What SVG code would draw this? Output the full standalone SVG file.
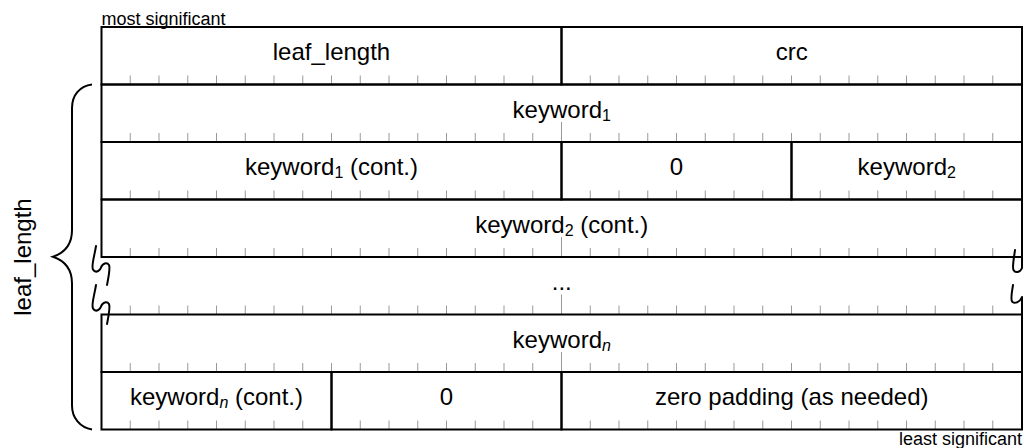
<svg xmlns="http://www.w3.org/2000/svg" width="1024" height="448" viewBox="0 0 1024 448">
  <defs>
    <style>
      .t{font-family:"Liberation Sans",Arial,sans-serif;font-size:24px;fill:#000;text-anchor:middle}
      .s{font-family:"Liberation Sans",Arial,sans-serif;font-size:18px;fill:#000}
      .sub{font-size:16px}
      .ln{stroke:#000;stroke-width:2;fill:none}
      .tk{stroke:#999;stroke-width:1;fill:none}
      .sq{stroke:#000;stroke-width:2;fill:none;stroke-linecap:round;stroke-linejoin:round}
    </style>
    <!-- bit ticks along the bottom of a 32-bit row; y=0 is the row's bottom edge -->
    <path id="ticks" class="tk" d="M130.25,-9v9M159,-9v9M187.75,-9v9M216.5,-9v9M245.25,-9v9M274,-9v9M302.75,-9v9M331.5,-9v9M360.25,-9v9M389,-9v9M417.75,-9v9M446.5,-9v9M475.25,-9v9M504,-9v9M532.75,-9v9M561.5,-20v20M590.25,-9v9M619,-9v9M647.75,-9v9M676.5,-9v9M705.25,-9v9M734,-9v9M762.75,-9v9M791.5,-9v9M820.25,-9v9M849,-9v9M877.75,-9v9M906.5,-9v9M935.25,-9v9M964,-9v9M992.75,-9v9"/>
    <!-- break mark used on the left edge of the gap row -->
    <path id="breakL" class="sq" d="M96,246 C94.5,256 91,266 93,269.5 C95,273 99.5,272 101,267.5 C102.5,263 107,262 109,265 C110.5,268 108.5,277 107,285"/>
  </defs>

  <rect width="1024" height="448" fill="#fff"/>

  <!-- tick marks -->
  <g id="tick-marks">
    <use href="#ticks" y="84.5"/>
    <use href="#ticks" y="142"/>
    <use href="#ticks" y="199.5"/>
    <use href="#ticks" y="257"/>
    <use href="#ticks" y="314.5"/>
    <use href="#ticks" y="372"/>
    <use href="#ticks" y="429.5"/>
  </g>

  <text class="s" x="101.5" y="25">most significant</text>
  <text class="s" x="1022" y="444.5" text-anchor="end">least significant</text>

  <!-- row 1 -->
  <g id="leaf-length">
    <rect class="ln" x="101.5" y="27" width="460" height="57.5"/>
    <text class="t" x="331.5" y="60">leaf_length</text>
  </g>
  <g id="crc">
    <rect class="ln" x="561.5" y="27" width="460.5" height="57.5"/>
    <text class="t" x="791.75" y="60">crc</text>
  </g>

  <!-- row 2 -->
  <g id="keyword1">
    <rect class="ln" x="101.5" y="84.5" width="920.5" height="57.5"/>
    <text class="t" x="561.75" y="117.5">keyword<tspan class="sub" dy="3">1</tspan></text>
  </g>

  <!-- row 3 -->
  <g id="keyword1-cont">
    <rect class="ln" x="101.5" y="142" width="460" height="57.5"/>
    <text class="t" x="331.5" y="175">keyword<tspan class="sub" dy="3">1</tspan><tspan dy="-3"> (cont.)</tspan></text>
  </g>
  <g id="zero-1">
    <rect class="ln" x="561.5" y="142" width="230" height="57.5"/>
    <text class="t" x="676.5" y="175">0</text>
  </g>
  <g id="keyword2">
    <rect class="ln" x="791.5" y="142" width="230.5" height="57.5"/>
    <text class="t" x="906.75" y="175">keyword<tspan class="sub" dy="3">2</tspan></text>
  </g>

  <!-- row 4 -->
  <g id="keyword2-cont">
    <rect class="ln" x="101.5" y="199.5" width="920.5" height="57.5"/>
    <text class="t" x="561.75" y="232.5">keyword<tspan class="sub" dy="3">2</tspan><tspan dy="-3"> (cont.)</tspan></text>
  </g>

  <!-- gap row -->
  <g id="gap">
    <path class="ln" d="M1022,257V268M1022,297V314.5"/>
    <use href="#breakL"/>
    <use href="#breakL" y="39"/>
    <path class="sq" d="M1015,250 C1014,258 1012,267 1013.5,270 C1015,273 1020,273 1022,268"/>
    <path class="sq" d="M1013,285 C1012,292 1010,300 1012.5,302 C1015,304 1020,302 1022,297"/>
    <text class="t" x="561.75" y="290">...</text>
  </g>

  <!-- row 6 -->
  <g id="keywordn">
    <rect class="ln" x="101.5" y="314.5" width="920.5" height="57.5"/>
    <text class="t" x="561.75" y="347.5">keyword<tspan class="sub" font-style="italic" dy="3">n</tspan></text>
  </g>

  <!-- row 7 -->
  <g id="keywordn-cont">
    <rect class="ln" x="101.5" y="372" width="230" height="57.5"/>
    <text class="t" x="216.5" y="405">keyword<tspan class="sub" font-style="italic" dy="3">n</tspan><tspan dy="-3"> (cont.)</tspan></text>
  </g>
  <g id="zero-2">
    <rect class="ln" x="331.5" y="372" width="230" height="57.5"/>
    <text class="t" x="446.5" y="405">0</text>
  </g>
  <g id="zero-padding">
    <rect class="ln" x="561.5" y="372" width="460.5" height="57.5"/>
    <text class="t" x="791.75" y="405">zero padding (as needed)</text>
  </g>

  <!-- brace spanning the keyword rows -->
  <g id="connectors">
    <path class="ln" d="M92,84.5 C80,86 72,95 72,108 L72,230 C72,245 64,253 53,256.75 C64,260.5 72,268.5 72,283.5 L72,405.5 C72,418 80,427.5 92,429.5"/>
  </g>
  <g id="brace-label">
    <text class="t" transform="translate(31,257) rotate(-90)">leaf_length</text>
  </g>
</svg>
